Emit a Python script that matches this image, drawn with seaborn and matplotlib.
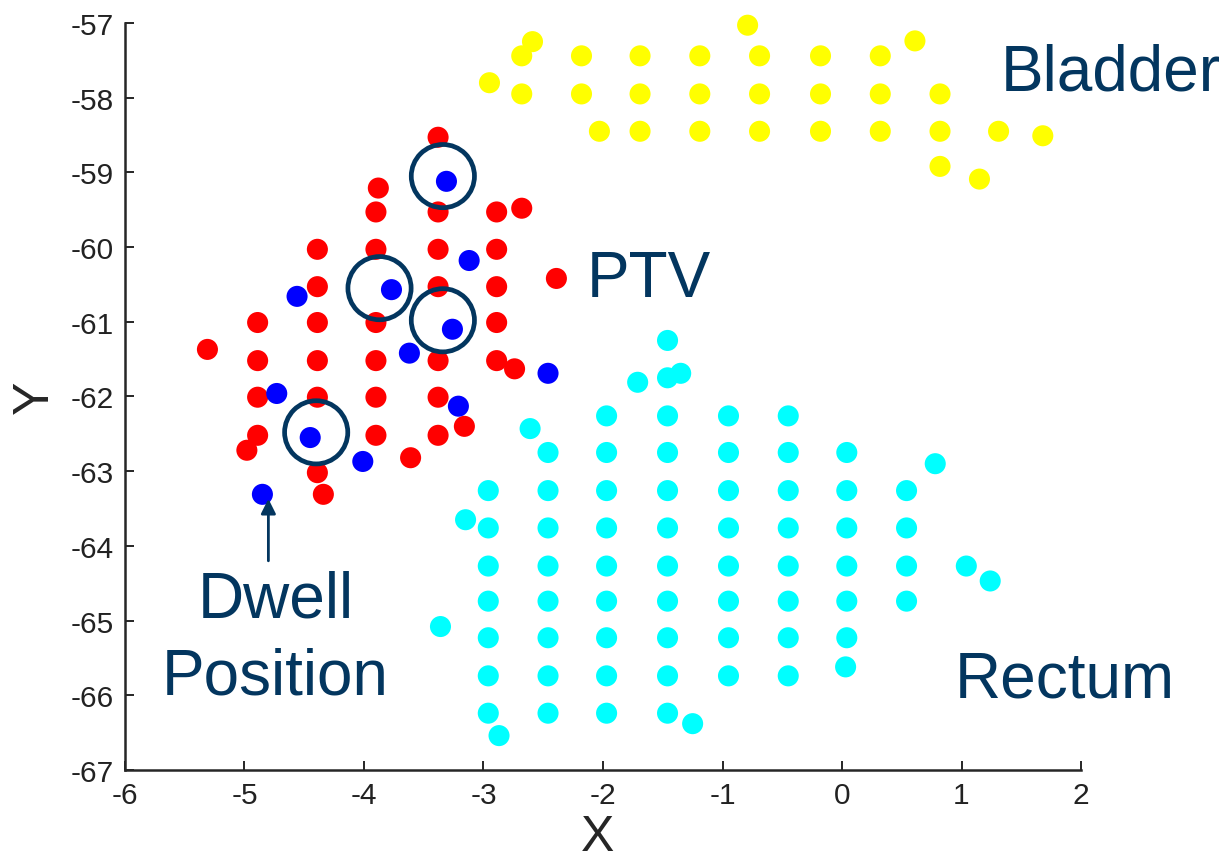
import numpy as np
import pandas as pd
import matplotlib
matplotlib.use("Agg")
import matplotlib.pyplot as plt
import seaborn as sns

# organ point clouds (x, y)
bladder_x = [-2.95, -2.68, -2.59, -2.18, -1.69, -1.19, -0.69, -0.18, 0.32, -0.79, 0.61,
             -2.68, -2.18, -1.69, -1.19, -0.69, -0.18, 0.32, 0.82,
             -2.03, -1.69, -1.19, -0.69, -0.18, 0.32, 0.82, 1.31, 1.68,
             0.82, 1.15]
bladder_y = [-57.80, -57.44, -57.25, -57.44, -57.44, -57.44, -57.44, -57.44, -57.44, -57.03, -57.24,
             -57.95, -57.95, -57.95, -57.95, -57.95, -57.95, -57.95, -57.95,
             -58.45, -58.45, -58.45, -58.45, -58.45, -58.45, -58.45, -58.45, -58.51,
             -58.92, -59.09]

ptv_x = [-3.38, -3.88, -3.90, -3.38, -2.89, -2.68,
         -4.39, -3.90, -3.38, -2.89,
         -4.39, -3.38, -2.89, -2.39,
         -4.89, -4.39, -3.90, -2.89,
         -5.31, -4.89, -4.39, -3.90, -3.38, -2.89, -2.74,
         -4.89, -4.39, -3.90, -3.38,
         -4.89, -4.98, -3.90, -3.38, -3.16, -3.61, -4.39, -4.34]
ptv_y = [-58.53, -59.21, -59.53, -59.53, -59.53, -59.48,
         -60.03, -60.03, -60.03, -60.03,
         -60.53, -60.53, -60.53, -60.42,
         -61.01, -61.01, -61.01, -61.01,
         -61.37, -61.52, -61.52, -61.52, -61.52, -61.52, -61.63,
         -62.01, -62.01, -62.01, -62.01,
         -62.52, -62.72, -62.52, -62.52, -62.40, -62.82, -63.02, -63.31]

dwell_x = [-3.31, -3.77, -3.12, -4.56, -3.26, -3.62, -2.46, -4.73, -3.21, -4.45, -4.01, -4.85]
dwell_y = [-59.12, -60.57, -60.18, -60.66, -61.10, -61.42, -61.69, -61.96, -62.13, -62.55, -62.87, -63.31]

rectum_x = [-2.96, -2.96, -2.96, -2.96, -2.96, -2.96, -2.96,
            -2.46, -2.46, -2.46, -2.46, -2.46, -2.46, -2.46, -2.46,
            -1.97, -1.97, -1.97, -1.97, -1.97, -1.97, -1.97, -1.97, -1.97,
            -1.46, -1.46, -1.46, -1.46, -1.46, -1.46, -1.46, -1.46, -1.46,
            -0.95, -0.95, -0.95, -0.95, -0.95, -0.95, -0.95, -0.95,
            -0.45, -0.45, -0.45, -0.45, -0.45, -0.45, -0.45, -0.45,
            0.04, 0.04, 0.04, 0.04, 0.04, 0.04,
            0.54, 0.54, 0.54, 0.54,
            -1.46, -1.71, -1.46, -1.35, -2.61, -3.15, -3.36, -1.25, -2.87, 0.78, 1.04, 1.24, 0.03]
rectum_y = [-63.26, -63.76, -64.27, -64.74, -65.23, -65.74, -66.24,
            -62.75, -63.26, -63.76, -64.27, -64.74, -65.23, -65.74, -66.24,
            -62.26, -62.75, -63.26, -63.76, -64.27, -64.74, -65.23, -65.74, -66.24,
            -62.26, -62.75, -63.26, -63.76, -64.27, -64.74, -65.23, -65.74, -66.24,
            -62.26, -62.75, -63.26, -63.76, -64.27, -64.74, -65.23, -65.74,
            -62.26, -62.75, -63.26, -63.76, -64.27, -64.74, -65.23, -65.74,
            -62.75, -63.26, -63.76, -64.27, -64.74, -65.23,
            -63.26, -63.76, -64.27, -64.74,
            -61.25, -61.81, -61.75, -61.69, -62.43, -63.65, -65.08, -66.38, -66.54, -62.90, -64.27, -64.47, -65.62]

# highlighted dwell positions
ring_x = [-3.34, -3.87, -3.34, -4.40]
ring_y = [-59.05, -60.55, -60.98, -62.48]

xticks = [-6, -5, -4, -3, -2, -1, 0, 1, 2]
yticks = [-67, -66, -65, -64, -63, -62, -61, -60, -59, -58, -57]

navy = "#03365f"
colors = {"Bladder": "#ffff00", "PTV": "#ff0000", "Dwell": "#0000ff", "Rectum": "#00ffff"}

df = pd.concat([
    pd.DataFrame({"x": bladder_x, "y": bladder_y, "group": "Bladder"}),
    pd.DataFrame({"x": rectum_x, "y": rectum_y, "group": "Rectum"}),
    pd.DataFrame({"x": ptv_x, "y": ptv_y, "group": "PTV"}),
    pd.DataFrame({"x": dwell_x, "y": dwell_y, "group": "Dwell"}),
], ignore_index=True)

sns.set_style("white")
plt.rcParams["font.family"] = ["Liberation Sans", "DejaVu Sans"]
plt.rcParams["axes.unicode_minus"] = False

fig = plt.figure(figsize=(12.24, 8.62), dpi=100)
ax = fig.add_axes([0.1021, 0.1056, 0.7811, 0.8666])

sns.scatterplot(data=df, x="x", y="y", hue="group", palette=colors, s=230,
                linewidth=0, legend=False, clip_on=False, ax=ax)
ax.scatter(ring_x, ring_y, s=2070, facecolors="none", edgecolors=navy, linewidths=3.4, zorder=5)

ax.set_xlim(-6, 2)
ax.set_ylim(-67, -57)
ax.set_xticks(xticks)
ax.set_yticks(yticks)
for side in ["top", "right"]:
    ax.spines[side].set_visible(False)
for side in ["left", "bottom"]:
    ax.spines[side].set_color("#262626")
    ax.spines[side].set_linewidth(1.8)
ax.tick_params(bottom=True, left=True, direction="in", length=6.5, width=1.4, color="#262626",
               labelsize=21.5, labelcolor="#222222", pad=8)

ax.set_xlabel("X", fontsize=36, va="center")
ax.set_ylabel("Y", fontsize=36, va="center")
ax.xaxis.set_label_coords(598 / 1224, 1 - 838 / 862, transform=fig.transFigure)
ax.yaxis.set_label_coords(35 / 1224, 1 - 397 / 862, transform=fig.transFigure)

# region labels
ax.text(1.33, -57.885, "Bladder", fontsize=46, color=navy, va="baseline", ha="left")
ax.text(-2.14, -60.66, "PTV", fontsize=46, color=navy, va="baseline", ha="left")
ax.text(0.94, -66.02, "Rectum", fontsize=46, color=navy, va="baseline", ha="left")
ax.text(-4.74, -64.95, "Dwell", fontsize=46, color=navy, va="baseline", ha="center")
ax.text(-4.74, -65.98, "Position", fontsize=46, color=navy, va="baseline", ha="center")

ax.annotate("", xy=(-4.80, -63.37), xytext=(-4.80, -64.20),
            arrowprops=dict(arrowstyle="-|>", color=navy, lw=2, mutation_scale=22,
                            shrinkA=0, shrinkB=0))

fig.savefig("out.png", dpi=100)
